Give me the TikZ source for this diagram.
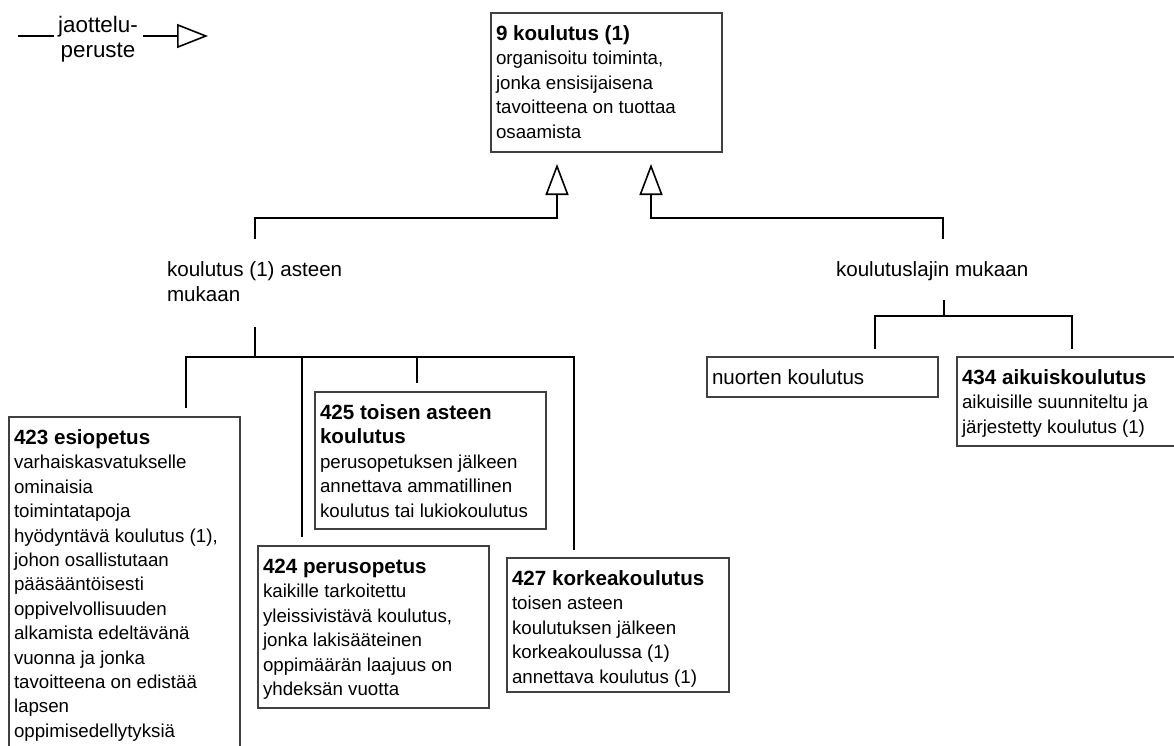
\documentclass[tikz,border=0pt]{standalone}
\usepackage{fontspec}
\setmainfont{Liberation Sans}
\usetikzlibrary{arrows.meta}
\newcommand{\fs}{\fontsize{18.7}{24.4}\selectfont}
\newcommand{\fst}{\fontsize{20.6}{24.4}\selectfont}
\newcommand{\ttl}[1]{{\fst\bfseries #1}}
\newcommand{\bxc}[3]{\parbox[c][#2][t]{#1}{\raggedright\fs\strut #3}}
\tikzset{
  cbox/.style={draw=black!75, line width=1.2pt, inner xsep=5pt, inner ysep=10.5pt, outer sep=0pt, anchor=north west, font=\fs},
  conn/.style={line width=1.6pt, black},
  lbl/.style={inner sep=0pt, outer sep=0pt, anchor=north west, font=\fontsize{20.6}{25}\selectfont, align=left},
  tri/.style={-{Triangle[open, length=31pt, width=23pt, fill=white]}}
}
\begin{document}
\begin{tikzpicture}[x=1pt,y=-1pt]
\clip (0,0) rectangle (1174,745);
\fill[white] (0,0) rectangle (1174,745);

% legend
\node[inner sep=0pt, outer sep=0pt, anchor=north, font=\fontsize{22.4}{25.5}\selectfont, align=center] (lg) at (98,14.2) {\strut jaottelu-\\peruste};
\coordinate (lg1) at (18,36);
\coordinate (lg2) at (54,36);
\coordinate (lg3) at (143,36);
\coordinate (lg4) at (208,36);
\draw[conn] (lg1) -- (lg2);
\draw[conn, -{Triangle[open, length=31pt, width=24pt, fill=white]}] (lg3) -- (lg4);

% boxes
\node[cbox] (top) at (491,13) {\bxc{221pt}{118pt}{\ttl{9 koulutus (1)}\\organisoitu toiminta,\\jonka ensisijaisena\\tavoitteena on tuottaa\\osaamista}};

\node[cbox] (b423) at (9,417) {\bxc{221pt}{339pt}{\ttl{423 esiopetus}\\varhaiskasvatukselle\\ominaisia\\toimintatapoja\\hyödyntävä koulutus (1),\\johon osallistutaan\\pääsääntöisesti\\oppivelvollisuuden\\alkamista edeltävänä\\vuonna ja jonka\\tavoitteena on edistää\\lapsen\\oppimisedellytyksiä}};

\node[cbox] (b425) at (315,392) {\bxc{221pt}{116pt}{\ttl{425 toisen asteen}\\\ttl{koulutus}\\perusopetuksen jälkeen\\annettava ammatillinen\\koulutus tai lukiokoulutus}};

\node[cbox] (b424) at (258,546) {\bxc{221pt}{141pt}{\ttl{424 perusopetus}\\kaikille tarkoitettu\\yleissivistävä koulutus,\\jonka lakisääteinen\\oppimäärän laajuus on\\yhdeksän vuotta}};

\node[cbox] (b427) at (507,558) {\bxc{212pt}{113pt}{\ttl{427 korkeakoulutus}\\toisen asteen\\koulutuksen jälkeen\\korkeakoulussa (1)\\annettava koulutus (1)}};

\node[cbox] (bn) at (707,357) {\bxc{221pt}{19pt}{\fst nuorten koulutus}};

\node[cbox] (b434) at (957,357) {\bxc{221pt}{68pt}{\ttl{434 aikuiskoulutus}\\aikuisille suunniteltu ja\\järjestetty koulutus (1)}};

% labels
\node[lbl] (lA) at (167,258.5) {\strut koulutus (1) asteen\\mukaan};
\node[lbl] (lB) at (836,258.5) {\strut koulutuslajin mukaan};

% generalisation connectors
\coordinate (tA) at (557,164);
\coordinate (qA) at (255,218);
\coordinate (pA) at (255,239);
\coordinate (tB) at (651,164);
\coordinate (qB) at (943,218);
\coordinate (pB) at (943,239);
\draw[conn, tri] (pA) -- (qA) -| (tA);
\draw[conn, tri] (pB) -- (qB) -| (tB);

% left tree
\coordinate (a0) at (255,327);
\coordinate (a1) at (255,357);
\coordinate (c1) at (186,408);
\coordinate (c2) at (302,537);
\coordinate (c3) at (417,383);
\coordinate (c4) at (574,550);
\draw[conn] (a0) -- (a1);
\draw[conn] (a1) -| (c1);
\draw[conn] (a1) -| (c2);
\draw[conn] (a1) -| (c3);
\draw[conn] (a1) -| (c4);

% right tree
\coordinate (r0) at (944,300);
\coordinate (r1) at (944,316);
\coordinate (r2) at (875,349);
\coordinate (r3) at (1072,349);
\draw[conn] (r0) -- (r1);
\draw[conn] (r1) -| (r2);
\draw[conn] (r1) -| (r3);
\end{tikzpicture}
\end{document}
